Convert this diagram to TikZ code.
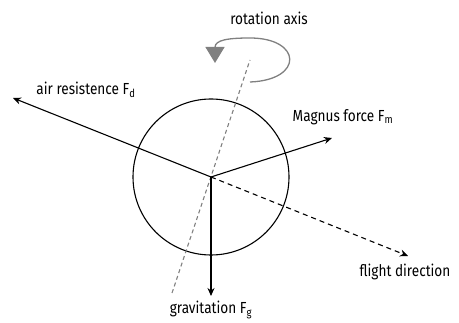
\documentclass[tikz,border=0pt]{standalone}
\usepackage{fontspec}
\setmainfont{Fira Sans}[FakeStretch=0.85]
\usetikzlibrary{arrows.meta}
\begin{document}
\begin{tikzpicture}[x=1pt,y=-1pt,
  force/.style={line width=1.1pt,-{Stealth[length=8pt,width=7pt]}},
  axisline/.style={gray,line width=1.1pt,dash pattern=on 4pt off 3pt},
  lbl/.style={font=\fontsize{16}{18}\selectfont,inner sep=0pt}]
\useasboundingbox (0,0) rectangle (459,323);
\coordinate (c) at (211,177);
\node[circle,draw,line width=1.1pt,minimum size=156pt,inner sep=0pt] (ball) at (c) {};
\coordinate (ad) at (13,98);
\coordinate (mg) at (332,138);
\coordinate (fd) at (408,256);
\coordinate (gv) at (211,296);
\coordinate (axb) at (172,293);
\coordinate (axt) at (250,60);
\draw[axisline] (axb) -- (axt);
\draw[force] (c) -- (ad);
\draw[force] (c) -- (mg);
\draw[force] (c) -- (gv);
\draw[force,dash pattern=on 5pt off 4pt] (c) -- (fd);
\coordinate (rs) at (250,82);
\coordinate (re) at (215,63);
\draw[gray,line width=1.3pt,-{Triangle[length=16pt,width=19pt]}]
  (rs) .. controls (304,80) and (302,38) .. (250,38)
  .. controls (228,38) and (215,40) .. (re);
\node[lbl] (trot) at (269,18) {rotation axis};
\node[lbl] (tad) at (86,90) {air resistence F\textsubscript{d}};
\node[lbl] (tmg) at (343,117) {Magnus force F\textsubscript{m}};
\node[lbl] (tfd) at (405,272) {flight direction};
\node[lbl] (tgv) at (211,310) {gravitation F\textsubscript{g}};
\end{tikzpicture}
\end{document}
